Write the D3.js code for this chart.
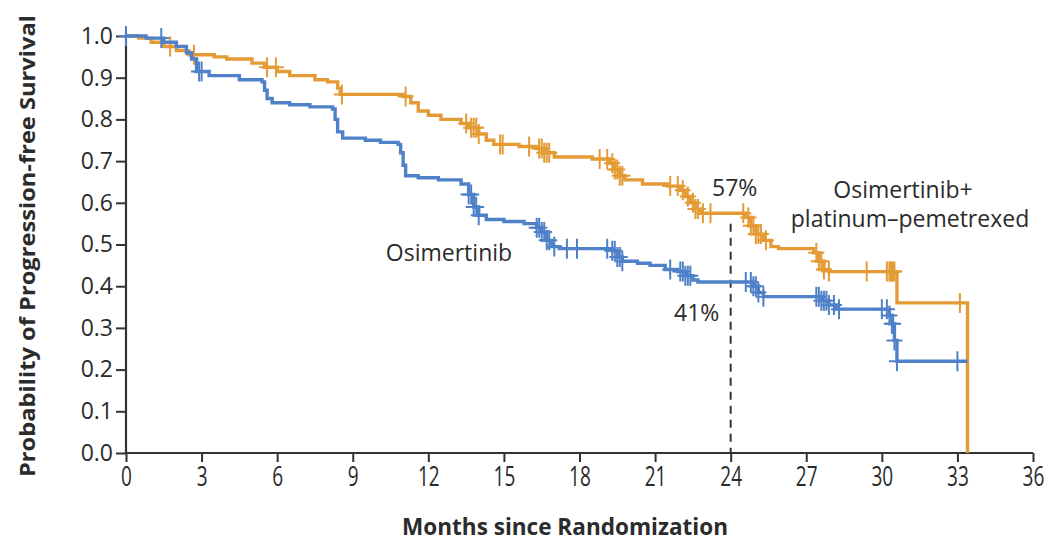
<!DOCTYPE html>
<html>
<head>
<meta charset="utf-8">
<script src="https://cdn.jsdelivr.net/npm/d3@7/dist/d3.min.js"></script>
<style>
  html, body { margin: 0; padding: 0; background: #fff; }
  svg { display: block; }
  text { fill: #2b2b2b; font-family: "Open Sans", "Noto Sans", sans-serif; }
</style>
</head>
<body>
<svg id="chart" width="1053" height="543"></svg>
<script>
// Kaplan–Meier progression-free survival, two arms.
// Steps: [month, survival after the event].
const osiSteps = [
  [0, 1.0], [0.8, 0.995], [1.5, 0.985], [2.0, 0.975], [2.4, 0.96], [2.6, 0.945],
  [2.8, 0.915], [3.3, 0.905], [4.5, 0.895], [5.4, 0.89], [5.5, 0.87], [5.6, 0.85],
  [5.8, 0.84], [6.5, 0.835], [7.3, 0.83], [8.2, 0.825], [8.3, 0.80], [8.4, 0.77],
  [8.6, 0.755], [9.5, 0.75], [10.1, 0.745], [10.8, 0.74], [10.9, 0.72], [11.0, 0.69],
  [11.1, 0.665], [11.6, 0.66], [12.4, 0.655], [13.3, 0.645], [13.6, 0.62], [13.8, 0.59],
  [14.0, 0.57], [14.3, 0.56], [15.0, 0.555], [15.8, 0.55], [16.3, 0.54], [16.5, 0.53],
  [16.7, 0.51], [16.9, 0.495], [17.2, 0.49], [19.3, 0.485], [19.5, 0.47], [19.7, 0.46],
  [20.3, 0.455], [20.8, 0.45], [21.4, 0.44], [21.9, 0.435], [22.2, 0.425], [22.5, 0.415],
  [22.7, 0.41], [24.9, 0.40], [25.1, 0.385], [25.3, 0.375], [27.6, 0.365], [27.9, 0.355],
  [28.2, 0.345], [30.3, 0.33], [30.4, 0.31], [30.5, 0.27], [30.6, 0.22]
];
const osiFollowUpEnd = 33.4;
const osiCensored = [
  0, 1.4, 2.9, 3.0, 13.6, 13.7, 13.8, 13.9, 14.0, 16.3, 16.4, 16.5, 16.6, 16.7, 16.8, 17.0,
  17.5, 17.9, 19.1, 19.3, 19.4, 19.5, 19.6, 19.7, 21.6, 22.0, 22.1, 22.2, 22.3, 22.4,
  24.6, 24.8, 24.9, 25.0, 25.1, 25.3, 27.4, 27.5, 27.6, 27.7, 27.8, 27.9, 28.1, 28.3,
  30.0, 30.2, 30.3, 30.4, 30.45, 30.5, 30.6, 33.0
];

const comboSteps = [
  [0, 1.0], [0.5, 0.995], [1.0, 0.985], [1.5, 0.975], [2.0, 0.965], [2.5, 0.955],
  [3.5, 0.95], [4.0, 0.945], [5.0, 0.935], [5.5, 0.925], [6.0, 0.915], [6.5, 0.905],
  [7.5, 0.895], [8.0, 0.89], [8.4, 0.875], [8.5, 0.86], [11.0, 0.855], [11.3, 0.84],
  [11.6, 0.82], [12.0, 0.81], [12.5, 0.80], [13.3, 0.79], [13.6, 0.78], [14.0, 0.765],
  [14.3, 0.75], [14.6, 0.74], [15.6, 0.735], [16.3, 0.73], [16.6, 0.72], [17.0, 0.71],
  [18.5, 0.705], [19.2, 0.695], [19.4, 0.68], [19.6, 0.665], [19.8, 0.655], [20.5, 0.645],
  [21.5, 0.64], [22.0, 0.63], [22.2, 0.615], [22.4, 0.60], [22.6, 0.585], [22.8, 0.575],
  [24.6, 0.565], [24.8, 0.545], [25.0, 0.525], [25.3, 0.51], [25.6, 0.495], [25.9, 0.49],
  [27.3, 0.48], [27.5, 0.46], [27.7, 0.44], [27.9, 0.435], [30.6, 0.36], [33.4, 0.0]
];
const comboFollowUpEnd = 33.4;
const comboCensored = [
  1.75, 2.7, 5.6, 5.95, 8.57, 11.1, 13.5, 13.7, 13.8, 13.9, 14.0, 14.85, 14.95, 16.0,
  16.4, 16.5, 16.6, 16.7, 16.8, 18.8, 19.1, 19.3, 19.4, 19.5, 19.6, 19.7, 21.6, 21.9,
  22.1, 22.3, 22.5, 22.6, 22.7, 22.9, 23.2, 24.5, 24.7, 24.8, 24.9, 25.0, 25.1, 25.2,
  25.4, 27.4, 27.5, 27.6, 27.7, 27.9, 29.4, 30.2, 30.3, 30.35, 30.4, 30.45, 30.5, 33.1
];

const xTicks = d3.range(0, 37, 3);
const yTicks = [0, 0.1, 0.2, 0.3, 0.4, 0.5, 0.6, 0.7, 0.8, 0.9, 1.0];
const landmarkMonth = 24;
const landmarkCombo = 0.57;   // 57%
const landmarkOsi = 0.41;     // 41%

const colors = { osi: "#4f81c9", combo: "#e49b35", axis: "#333333" };

const svg = d3.select("#chart");
const x = d3.scaleLinear().domain([0, 36]).range([126, 1033]);
const y = d3.scaleLinear().domain([0, 1]).range([453, 36]);

// survival value of a step function at time t
function survAt(steps, t) {
  let s = steps[0][1];
  for (const [m, v] of steps) { if (m <= t) s = v; else break; }
  return s;
}

// axes
const xAxis = svg.append("g").attr("transform", `translate(0,${y(0)})`)
  .call(d3.axisBottom(x).tickValues(xTicks).tickSize(9).tickPadding(4).tickFormat(d3.format("d")));
const yAxis = svg.append("g").attr("transform", `translate(${x(0)},0)`)
  .call(d3.axisLeft(y).tickValues(yTicks).tickSize(10).tickPadding(3).tickFormat(d3.format(".1f")));

[xAxis, yAxis].forEach(g => {
  g.attr("font-family", null).attr("font-size", null);
  g.select(".domain").attr("stroke", colors.axis).attr("stroke-width", 2.2);
  g.selectAll(".tick line").attr("stroke", colors.axis).attr("stroke-width", 2);
});
xAxis.select(".domain").attr("d", `M${x(0)},0H${x(36)}`);
yAxis.select(".domain").attr("d", `M0,${y(0)}V${y(1) - 4}`);
xAxis.selectAll(".tick text")
  .style("font-size", "28px")
  .attr("transform", "scale(0.68,1)");
yAxis.selectAll(".tick text")
  .style("font-size", "23px");

// landmark dashed line at 24 months
svg.append("line")
  .attr("x1", x(landmarkMonth)).attr("x2", x(landmarkMonth))
  .attr("y1", y(landmarkCombo - 0.02)).attr("y2", y(0))
  .attr("stroke", colors.axis).attr("stroke-width", 2)
  .attr("stroke-dasharray", "8,6");

const line = d3.line().x(d => x(d[0])).y(d => y(d[1])).curve(d3.curveStepAfter);

function drawArm(steps, endMonth, censored, color) {
  const pts = steps.slice();
  if (pts[pts.length - 1][0] < endMonth) pts.push([endMonth, pts[pts.length - 1][1]]);
  svg.append("path").datum(pts)
    .attr("d", line).attr("fill", "none")
    .attr("stroke", color).attr("stroke-width", 3.4)
    .attr("stroke-linejoin", "miter");
  const g = svg.append("g").attr("stroke", color).attr("stroke-width", 2);
  censored.forEach(t => {
    const cx = x(t), cy = y(survAt(steps, t));
    g.append("path").attr("d", `M${cx},${cy - 10}V${cy + 10}M${cx - 8},${cy}H${cx + 8}`);
  });
}

drawArm(comboSteps, comboFollowUpEnd, comboCensored, colors.combo);
drawArm(osiSteps, osiFollowUpEnd, osiCensored, colors.osi);

// labels
const lab = (txt, px, py, anchor = "middle", size = 23) =>
  svg.append("text").attr("x", px).attr("y", py).attr("text-anchor", anchor)
    .style("font-size", size + "px").text(txt);

lab(`${Math.round(landmarkCombo * 100)}%`, x(landmarkMonth) + 4, 196);
lab(`${Math.round(landmarkOsi * 100)}%`, x(landmarkMonth) - 34, 321);
lab("Osimertinib", 449, 261);
lab("Osimertinib+", 903, 198);
lab("platinum–pemetrexed", 910, 227);

// axis titles
svg.append("text")
  .attr("x", 565).attr("y", 535).attr("text-anchor", "middle")
  .style("font-size", "24px").attr("font-weight", 700)
  .attr("textLength", 326).attr("lengthAdjust", "spacingAndGlyphs")
  .text("Months since Randomization");

svg.append("text")
  .attr("transform", `translate(35,246) rotate(-90)`)
  .attr("text-anchor", "middle")
  .style("font-size", "21px").attr("font-weight", 700)
  .attr("textLength", 462).attr("lengthAdjust", "spacingAndGlyphs")
  .text("Probability of Progression-free Survival");
</script>
</body>
</html>
